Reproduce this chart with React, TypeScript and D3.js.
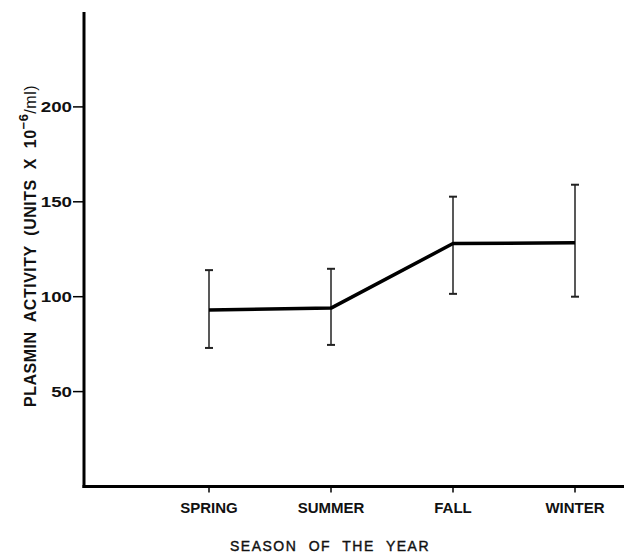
import React, {useEffect, useRef} from 'react'
import * as d3 from 'd3'

const seasons = ['SPRING', 'SUMMER', 'FALL', 'WINTER']
const meanActivity = [93, 94, 128, 128.4]
const upperError = [114, 114.7, 152.7, 159]
const lowerError = [73, 74.6, 101.5, 100]
const yTicks = [50, 100, 150, 200]

const W = 624
const H = 553
const FONT = '"Liberation Sans", Arial, sans-serif'

export default function App() {
    const svgRef = useRef<SVGSVGElement>(null)

    useEffect(() => {
        const svg = d3.select(svgRef.current)
        svg.selectAll('*').remove()

        const axisX = 84
        const axisY = 486.5

        const x = d3.scalePoint<string>().domain(seasons).range([209, 575])
        const y = d3.scaleLinear().domain([0, 250]).range([axisY, 12])

        const g = svg.append('g')

        // axes (plain lines, thick like the print)
        g.append('line')
            .attr('x1', axisX).attr('x2', axisX)
            .attr('y1', y(250)).attr('y2', axisY + 1.5)
            .attr('stroke', '#000').attr('stroke-width', 3)
        g.append('line')
            .attr('x1', axisX - 1.5).attr('x2', W)
            .attr('y1', axisY).attr('y2', axisY)
            .attr('stroke', '#000').attr('stroke-width', 3)

        // y ticks
        const yt = g.selectAll('g.ytick').data(yTicks).join('g').attr('class', 'ytick')
        yt.append('line')
            .attr('x1', axisX - 11).attr('x2', axisX)
            .attr('y1', (d) => y(d)).attr('y2', (d) => y(d))
            .attr('stroke', '#000').attr('stroke-width', 1.5)
        // the print's digits are wide, so stretch them horizontally
        yt.append('text')
            .attr('transform', (d) => `translate(${axisX - 12},${y(d)}) scale(1.25,1)`)
            .attr('dy', '0.36em')
            .attr('text-anchor', 'end')
            .attr('font-family', FONT)
            .attr('font-weight', 'bold')
            .attr('font-size', 15)
            .attr('fill', '#111')
            .text((d) => d)

        // x ticks
        const xt = g.selectAll('g.xtick').data(seasons).join('g').attr('class', 'xtick')
        xt.append('line')
            .attr('x1', (d) => x(d)!).attr('x2', (d) => x(d)!)
            .attr('y1', axisY).attr('y2', axisY + 6)
            .attr('stroke', '#000').attr('stroke-width', 1.5)
        xt.append('text')
            .attr('x', (d) => x(d)!)
            .attr('y', axisY + 26)
            .attr('text-anchor', 'middle')
            .attr('font-family', FONT)
            .attr('font-weight', 'bold')
            .attr('font-size', 15)
            .attr('fill', '#111')
            .text((d) => d)

        // axis titles
        g.append('text')
            .attr('x', 330)
            .attr('y', 551)
            .attr('text-anchor', 'middle')
            .attr('font-family', FONT)
            .attr('font-size', 14)
            .attr('letter-spacing', 1.5)
            .attr('word-spacing', 6)
            .attr('fill', '#111')
            .attr('stroke', '#111')
            .attr('stroke-width', 0.4)
            .text('SEASON OF THE YEAR')

        const yt2 = g.append('text')
            .attr('transform', 'translate(36,246) rotate(-90)')
            .attr('text-anchor', 'middle')
            .attr('font-family', FONT)
            .attr('font-weight', 'bold')
            .attr('font-size', 16)
            .attr('letter-spacing', 0.5)
            .attr('word-spacing', 5)
            .attr('fill', '#111')
        yt2.append('tspan').text('PLASMIN ACTIVITY (UNITS X 10')
        yt2.append('tspan').attr('dy', -8).attr('font-size', 13).text('\u22126')
        yt2.append('tspan').attr('dy', 8).attr('font-weight', 'normal').text('/ml)')

        // error bars
        const eb = g.selectAll('g.err').data(seasons).join('g').attr('class', 'err')
        eb.append('line')
            .attr('x1', (d) => x(d)!).attr('x2', (d) => x(d)!)
            .attr('y1', (_d, i) => y(upperError[i])).attr('y2', (_d, i) => y(lowerError[i]))
            .attr('stroke', '#222').attr('stroke-width', 1.5)
        eb.append('line')
            .attr('x1', (d) => x(d)! - 4).attr('x2', (d) => x(d)! + 4)
            .attr('y1', (_d, i) => y(upperError[i])).attr('y2', (_d, i) => y(upperError[i]))
            .attr('stroke', '#222').attr('stroke-width', 2)
        eb.append('line')
            .attr('x1', (d) => x(d)! - 4).attr('x2', (d) => x(d)! + 4)
            .attr('y1', (_d, i) => y(lowerError[i])).attr('y2', (_d, i) => y(lowerError[i]))
            .attr('stroke', '#222').attr('stroke-width', 2)

        // mean line
        const line = d3.line<number>()
            .x((_d, i) => x(seasons[i])!)
            .y((d) => y(d))
        g.append('path')
            .datum(meanActivity)
            .attr('d', line)
            .attr('fill', 'none')
            .attr('stroke', '#000')
            .attr('stroke-width', 3.5)
            .attr('stroke-linejoin', 'round')
    }, [])

    return (
        <svg
            ref={svgRef}
            width={W}
            height={H}
            style={{position: 'absolute', left: 0, top: 0, background: '#fff'}}
        />
    )
}
